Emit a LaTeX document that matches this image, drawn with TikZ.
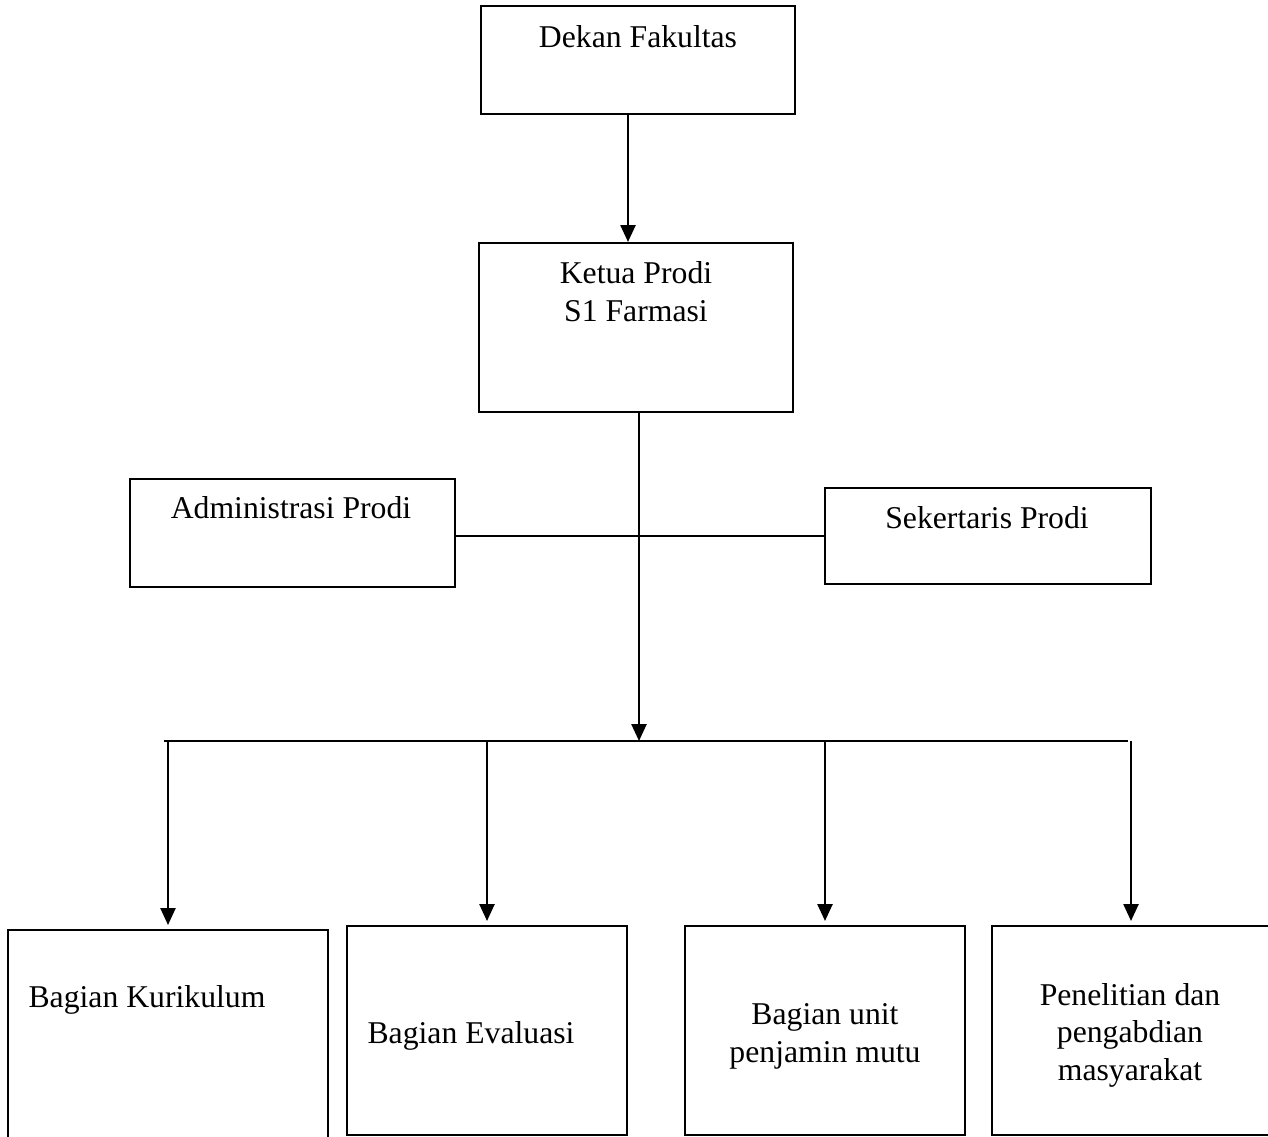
\documentclass[tikz,border=0pt]{standalone}
\usepackage{fontspec}
\setmainfont{Liberation Serif}
\usetikzlibrary{arrows.meta,positioning,calc}

\begin{document}
\begin{tikzpicture}[x=1pt, y=-1pt]
        \tikzset{
            box/.style={draw, rectangle, line width=2pt, inner sep=0pt},
            txt/.style={font=\fontsize{31.7}{37.5}\selectfont, align=center, anchor=base, inner sep=0pt},
            line/.style={draw, -{Triangle[width=15pt,length=17pt]}, line width=2.5pt, shorten >=4pt},
            bus/.style={draw, line width=2pt}
        }
        \useasboundingbox (0,0) rectangle (1268,1136);
        \clip (0,0) rectangle (1268,1136);

        % Pimpinan
        \node [box, minimum width=314pt, minimum height=108pt] (dekan) at (638,60) {};
        \node [txt] (dekanT) at (638,47) {Dekan Fakultas};
        \node [box, minimum width=314pt, minimum height=169pt] (ketua) at (636,327.5) {};
        \node [txt] (ketuaT) at (636,321) {Ketua Prodi\\S1 Farmasi};

        % Staf prodi
        \node [box, minimum width=325pt, minimum height=108pt] (admin) at (292,532.5) {};
        \node [txt] (adminT) at (291,518) {Administrasi Prodi};
        \node [box, minimum width=326pt, minimum height=96pt] (sekr) at (988,536) {};
        \node [txt] (sekrT) at (987,528) {Sekertaris Prodi};

        % Bagian
        \node [box, minimum width=320pt, minimum height=230pt] (kurikulum) at (168,1045) {};
        \node [txt] (kurikulumT) at (147,1007) {Bagian Kurikulum};
        \node [box, minimum width=280pt, minimum height=209pt] (evaluasi) at (487,1030.5) {};
        \node [txt] (evaluasiT) at (471,1043) {Bagian Evaluasi};
        \node [box, minimum width=280pt, minimum height=209pt] (mutu) at (825,1030.5) {};
        \node [txt] (mutuT) at (825,1062) {Bagian unit\\penjamin mutu};
        \node [box, minimum width=278pt, minimum height=209pt] (riset) at (1131,1030.5) {};
        \node [txt] (risetT) at (1130,1080) {Penelitian dan\\pengabdian\\masyarakat};

        % Garis pembagi
        \coordinate (busL) at (164,741);
        \coordinate (busR) at (1128,741);

        % Connections
        \draw [line, shorten >=0pt] ([xshift=-10pt]dekan.south) -- ([xshift=-10pt]dekan.south |- ketua.north);
        \draw [line, shorten >=0pt] ([xshift=3pt]ketua.south) -- ([xshift=3pt]ketua.south |- busL);
        \draw [bus] (admin.east |- sekr.west) -- (sekr.west);
        \draw [bus] (busL) -- (busR);
        \foreach \b in {kurikulum, evaluasi, mutu, riset}
            \draw [line] (\b.north |- busL) -- (\b.north);
\end{tikzpicture}
\end{document}
